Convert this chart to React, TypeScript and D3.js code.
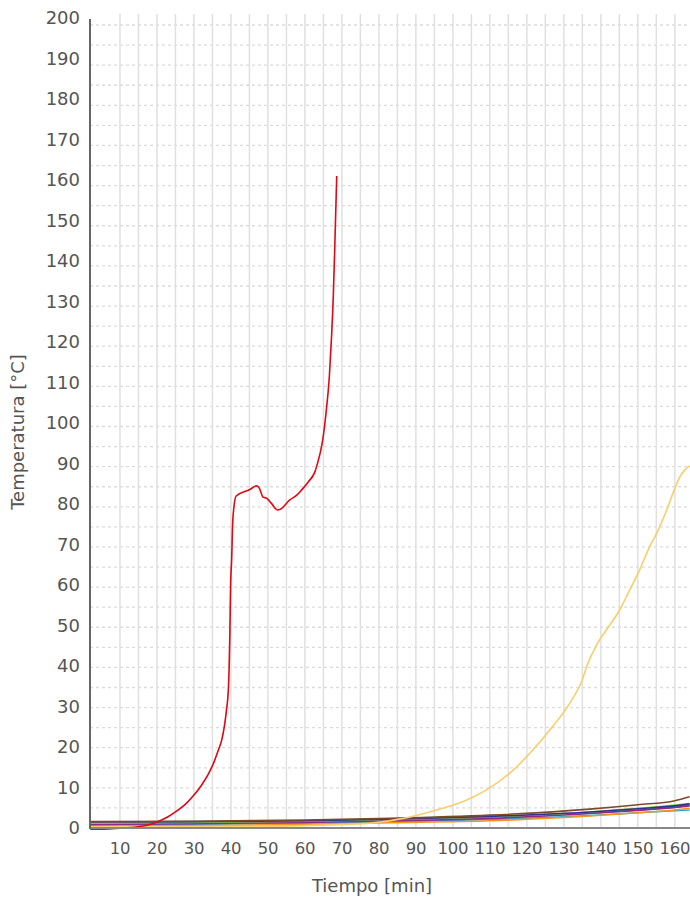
import React from "react";
import * as d3 from "d3";

type Pt = [number, number];

const redSeries: Pt[] = [[2,-0.3],[5,-0.3],[8,-0.2],[11,0],[14,0.2],[17,0.6],[20,1.5],[23,2.8],[25,4.0],[28,6.2],[30,8.2],[32,10.6],[34,13.6],[35.5,16.6],[36.6,19.4],[37.5,21.9],[38.2,25.2],[38.8,29.4],[39.3,34.4],[39.5,39.4],[39.7,47.6],[39.9,60],[40.2,67],[40.5,76.7],[41.4,82.7],[45.1,84.3],[46.9,85.2],[47.7,84.6],[48.6,82.5],[49.7,82.1],[51.0,80.8],[52.6,79.2],[53.2,79.3],[55.9,81.7],[57.8,82.9],[59.1,84.2],[60.9,86.2],[62.7,88.7],[63.6,91.5],[64.3,94.1],[64.8,96.6],[65.7,103.3],[66.6,112.4],[67.2,122.4],[67.7,133.2],[68.1,145.6],[68.6,162.4]];

const yellowSeries: Pt[] = [[2,0.3],[20,0.3],[40,0.4],[60,0.6],[70,0.9],[77.6,1.2],[86.6,2.4],[95.6,4.5],[102.8,6.6],[109.1,9.5],[116.3,14.4],[120.8,18.6],[126.2,24.4],[131.6,31.1],[134.8,36.5],[136.5,41],[138.8,45.5],[142,50],[145.1,54.3],[147.8,59.3],[150.5,64.3],[153.2,70.1],[155.1,73.4],[157.8,79.2],[160.0,84.6],[161.4,87.5],[162.7,89.2],[164.1,90.2]];

const clusterTimes = [2, 30, 60, 83, 110, 137, 150, 160, 164];
const brownValues = [1.6, 1.7, 2.0, 2.4, 3.2, 4.7, 5.8, 6.8, 7.8];
const navyValues = [1.5, 1.6, 1.8, 2.2, 2.9, 4.0, 4.8, 5.5, 6.0];
const greenValues = [1.2, 1.4, 1.7, 2.1, 2.8, 4.0, 4.9, 5.7, 6.1];
const tealValues = [1.0, 1.2, 1.5, 1.9, 2.6, 3.7, 4.5, 5.2, 5.7];
const purpleValues = [0.9, 1.1, 1.4, 1.8, 2.4, 3.6, 4.4, 5.1, 5.5];
const blueValues = [0.7, 0.9, 1.2, 1.5, 2.1, 3.1, 3.8, 4.3, 4.5];
const orangeValues = [0.4, 0.6, 0.9, 1.3, 1.8, 3.0, 3.8, 4.5, 4.9];

const clusterSeries = [
  { color: "#29abe2", values: blueValues },
  { color: "#f7941d", values: orangeValues },
  { color: "#3aa39a", values: tealValues },
  { color: "#8e2a8e", values: purpleValues },
  { color: "#8dc63f", values: greenValues },
  { color: "#2e3192", values: navyValues },
  { color: "#7b4a2a", values: brownValues },
];

const xTicks = [10, 20, 30, 40, 50, 60, 70, 80, 90, 100, 110, 120, 130, 140, 150, 160];
const xGrid = d3.range(10, 165, 5);
const yTicks = d3.range(0, 201, 10);
const yGrid = d3.range(5, 201, 5);

const W = 690;
const H = 900;
const FONT = "'DejaVu Sans', sans-serif";

export default function App() {
  const x = d3.scaleLinear().domain([1.9, 164.1]).range([90, 690]);
  const y = d3.scaleLinear().domain([0, 200]).range([828, 25]);
  const yLabel = d3.scaleLinear().domain([0, 200]).range([828, 18]);
  const line = d3
    .line<Pt>()
    .x((d) => x(d[0]))
    .y((d) => y(d[1]))
    .curve(d3.curveMonotoneX);

  return (
    <svg
      width={W}
      height={H}
      style={{ position: "absolute", left: 0, top: 0, background: "#fff" }}
    >
      <g>
        {yGrid.map((v) => (
          <line
            key={"hy" + v}
            x1={90}
            x2={690}
            y1={y(v)}
            y2={y(v)}
            stroke="#dcdcdc"
            strokeWidth={1.3}
            strokeDasharray="3,3"
          />
        ))}
        {xGrid.map((v) => (
          <line
            key={"vx" + v}
            x1={x(v)}
            x2={x(v)}
            y1={14}
            y2={828}
            stroke="#e0e0e0"
            strokeWidth={1.5}
          />
        ))}
      </g>
      <g fill="none" strokeWidth={1.6} strokeLinejoin="round">
        {clusterSeries.map((s, i) => (
          <path
            key={"c" + i}
            d={line(clusterTimes.map((t, j) => [t, s.values[j]] as Pt)) || ""}
            stroke={s.color}
          />
        ))}
        <path d={line(yellowSeries) || ""} stroke="#f9cd6b" />
        <path d={line(redSeries) || ""} stroke="#e30613" />
      </g>
      <line x1={90} x2={690} y1={828} y2={828} stroke="#888" strokeWidth={2} />
      <line x1={90} x2={90} y1={19} y2={829} stroke="#666" strokeWidth={2} />
      <g fontFamily={FONT} fontSize={18} fill="#555">
        {yTicks.map((v) => (
          <text key={"yt" + v} x={80} y={yLabel(v)} dy="0.36em" textAnchor="end">
            {v}
          </text>
        ))}
        {xTicks.map((v) => (
          <text
            key={"xt" + v}
            x={x(v)}
            y={848}
            dy="0.36em"
            textAnchor="middle"
            fontSize={16.5}
            letterSpacing={-0.3}
          >
            {v}
          </text>
        ))}
        <text x={372} y={886} dy="0.36em" textAnchor="middle">
          Tiempo [min]
        </text>
        <text
          transform="translate(18,432) rotate(-90)"
          dy="0.36em"
          textAnchor="middle"
        >
          Temperatura [°C]
        </text>
      </g>
    </svg>
  );
}
